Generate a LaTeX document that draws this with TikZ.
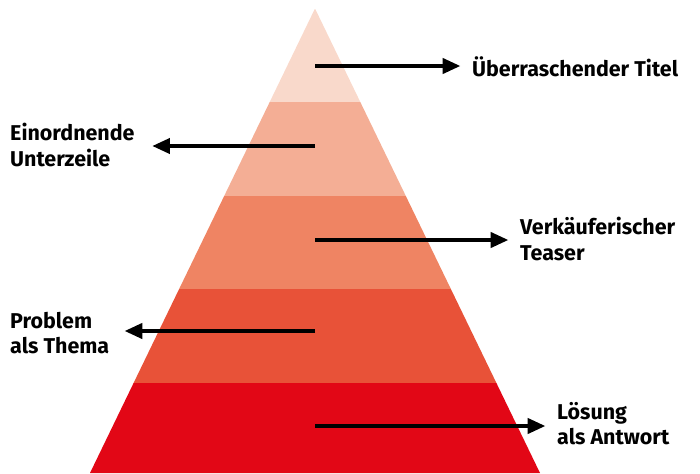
\documentclass[tikz,border=0pt]{standalone}
\usepackage{fontspec}
\setmainfont{Fira Sans}
\usepackage{tikz}
\usetikzlibrary{arrows.meta,positioning,calc}

\definecolor{lay1}{HTML}{F9D9CB}
\definecolor{lay2}{HTML}{F4AE95}
\definecolor{lay3}{HTML}{EF8463}
\definecolor{lay4}{HTML}{E85238}
\definecolor{lay5}{HTML}{E20716}

\tikzset{
  lbl/.style={font=\bfseries\fontsize{18.3}{21.5}\selectfont, align=left, inner sep=0pt},
  pfeil/.style={line width=2.8pt, -{Triangle[length=15pt,width=13pt]}}
}

\begin{document}
\begin{tikzpicture}[x=0.03cm, y=-0.03cm]
  \useasboundingbox (0,0) rectangle (700,473);
  \begin{scope}
    \clip (315,8.5) -- (90,473) -- (540,473) -- cycle;
    \foreach \c [count=\i from 0] in {lay1,lay2,lay3,lay4,lay5}
      \fill[\c] (80,{8.5+93.6*\i}) rectangle (550,{8.5+93.6*(\i+1)});
  \end{scope}

  \coordinate (c1) at (315,66);
  \coordinate (c2) at (315,146);
  \coordinate (c3) at (315,240);
  \coordinate (c4) at (315,331);
  \coordinate (c5) at (315,426);

  \node[lbl, anchor=west] (t1) at (472,67) {Überraschender Titel};
  \node[lbl, anchor=west] (t2) at (10,145) {Einordnende\\Unterzeile};
  \node[lbl, anchor=west] (t3) at (520,239) {Verkäuferischer\\Teaser};
  \node[lbl, anchor=west] (t4) at (10,333) {Problem\\als Thema};
  \node[lbl, anchor=west] (t5) at (557,424) {Lösung\\als Antwort};

  \draw[pfeil] (c1) -- ([xshift=-10pt]t1.west |- c1);
  \draw[pfeil] (c2) -- ([xshift=15pt]t2.east |- c2);
  \draw[pfeil] (c3) -- ([xshift=-10pt]t3.west |- c3);
  \draw[pfeil] (c4) -- ([xshift=13pt]t4.east |- c4);
  \draw[pfeil] (c5) -- ([xshift=-10pt]t5.west |- c5);
\end{tikzpicture}
\end{document}
